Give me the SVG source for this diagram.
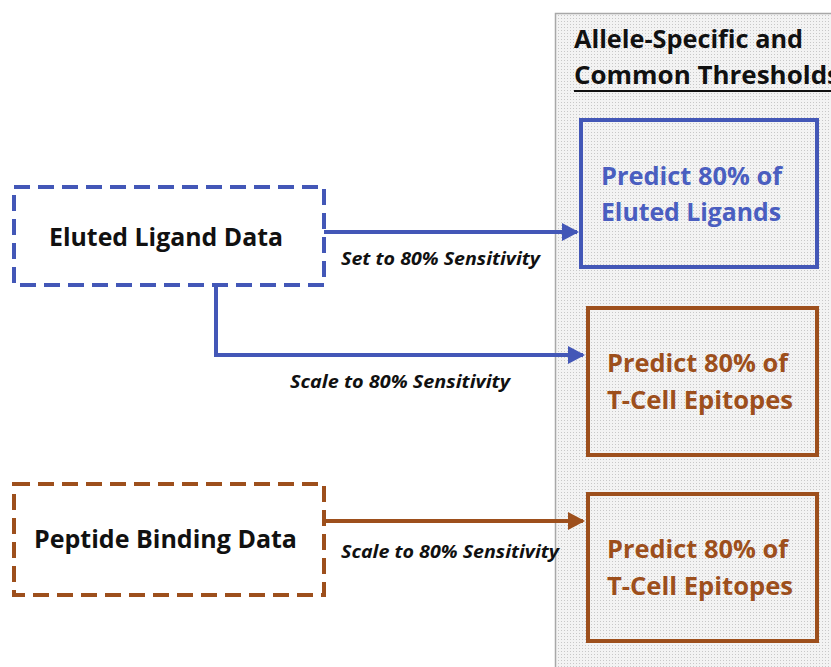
<svg xmlns="http://www.w3.org/2000/svg" width="831" height="667" viewBox="0 0 831 667">
<defs>
<pattern id="dots" width="3" height="3" patternUnits="userSpaceOnUse">
<rect width="3" height="3" fill="#f3f3f3"/>
<rect width="1" height="1" fill="#c8c8c8"/>
</pattern>
<marker id="ab" markerWidth="17" markerHeight="18" refX="15" refY="9" orient="auto" markerUnits="userSpaceOnUse" viewBox="0 0 17 18">
<path d="M0,0 L17,9 L0,18 z" fill="#4357b7"/>
</marker>
<marker id="ao" markerWidth="17" markerHeight="18" refX="15" refY="9" orient="auto" markerUnits="userSpaceOnUse" viewBox="0 0 17 18">
<path d="M0,0 L17,9 L0,18 z" fill="#9d4f1c"/>
</marker>
</defs>
<style>
.t{font-family:"Open Sans",Lato,"Liberation Sans",sans-serif;font-weight:bold}
.big{font-size:25px}
.lbl{font-family:"Open Sans",Lato,"Liberation Sans",sans-serif;font-weight:bold;font-style:italic;font-size:17px;fill:#111}
.dash{fill:#fff;stroke-width:4;stroke-dasharray:16 8}
.blue{stroke:#4357b7}
.brown{stroke:#9d4f1c}
.solid{stroke-width:4;fill:none}
.bt{fill:#4a5ec0}
.ot{fill:#9d4f1c}
.conn{fill:none;stroke-width:4}
</style>
<rect width="831" height="667" fill="#fff"/>
<g id="panel">
<rect x="555.5" y="13.5" width="290" height="670" fill="url(#dots)" stroke="#a8a8a8" stroke-width="1.5"/>
<text class="t" x="574" y="48" font-size="25" fill="#111" textLength="229" lengthAdjust="spacingAndGlyphs">Allele-Specific and</text>
<text class="t" x="574" y="84" font-size="25" fill="#111" textLength="266" lengthAdjust="spacingAndGlyphs">Common Thresholds</text>
<line x1="574" y1="91" x2="831" y2="91" stroke="#111" stroke-width="2"/>
</g>
<g id="eluted-data">
<rect class="dash blue" x="14" y="187" width="310" height="98"/>
<text class="t" x="49" y="246" font-size="25" fill="#111" textLength="234" lengthAdjust="spacingAndGlyphs">Eluted Ligand Data</text>
</g>
<g id="peptide-data">
<rect class="dash brown" x="14" y="484" width="310" height="111"/>
<text class="t" x="34" y="548" font-size="25" fill="#111" textLength="263" lengthAdjust="spacingAndGlyphs">Peptide Binding Data</text>
</g>
<g id="predict-eluted">
<rect class="solid blue" x="581" y="120" width="236" height="147"/>
<text class="t big bt" x="601" y="185" textLength="181" lengthAdjust="spacingAndGlyphs">Predict 80% of</text>
<text class="t big bt" x="601" y="221" textLength="180" lengthAdjust="spacingAndGlyphs">Eluted Ligands</text>
</g>
<g id="predict-tcell-1">
<rect class="solid brown" x="588" y="308" width="229" height="147"/>
<text class="t big ot" x="607" y="372" textLength="181" lengthAdjust="spacingAndGlyphs">Predict 80% of</text>
<text class="t big ot" x="607" y="409" textLength="186" lengthAdjust="spacingAndGlyphs">T-Cell Epitopes</text>
</g>
<g id="predict-tcell-2">
<rect class="solid brown" x="588" y="494" width="229" height="147"/>
<text class="t big ot" x="607" y="558" textLength="181" lengthAdjust="spacingAndGlyphs">Predict 80% of</text>
<text class="t big ot" x="607" y="595" textLength="186" lengthAdjust="spacingAndGlyphs">T-Cell Epitopes</text>
</g>
<g id="connectors">
<path class="conn blue" d="M324,232 H577" marker-end="url(#ab)"/>
<path class="conn blue" d="M216,285 V355 H583" marker-end="url(#ab)"/>
<path class="conn brown" d="M324,521 H583" marker-end="url(#ao)"/>
<text class="lbl" x="341" y="265" textLength="199" lengthAdjust="spacingAndGlyphs">Set to 80% Sensitivity</text>
<text class="lbl" x="290" y="388" textLength="220" lengthAdjust="spacingAndGlyphs">Scale to 80% Sensitivity</text>
<text class="lbl" x="341" y="558" textLength="218" lengthAdjust="spacingAndGlyphs">Scale to 80% Sensitivity</text>
</g>
</svg>
